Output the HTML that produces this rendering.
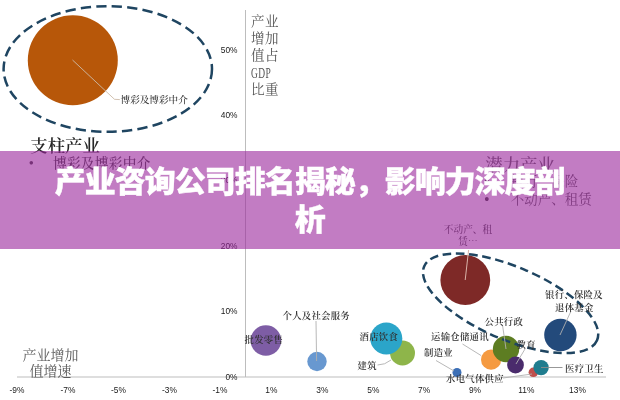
<!DOCTYPE html>
<html lang="zh-CN">
<head>
<meta charset="utf-8">
<title>产业咨询公司排名揭秘，影响力深度剖析</title>
<style>
html,body{margin:0;padding:0;background:#fff;}
body{width:620px;height:400px;overflow:hidden;position:relative;font-family:"Liberation Sans","Noto Sans CJK SC",sans-serif;}
#chart{position:absolute;left:0;top:0;width:620px;height:400px;display:block;filter:blur(0.4px);}
.serif{font-family:"Liberation Serif","Noto Serif CJK SC",serif;}
.sans{font-family:"Liberation Sans","Noto Sans CJK SC",sans-serif;}
#banner{position:absolute;left:0;top:151px;width:620px;height:98px;background:rgba(153,37,155,0.6);display:flex;align-items:center;justify-content:center;text-align:center;}
#banner h1{margin:1px 0 0 0;padding:0;color:#fff;font-family:"Liberation Sans","Noto Sans CJK SC",sans-serif;font-weight:900;font-size:29.4px;line-height:38px;letter-spacing:-0.96px;-webkit-text-stroke:0.4px #fff;transform:scaleX(1.055);transform-origin:50% 50%;white-space:nowrap;}
</style>
</head>
<body>
<svg id="chart" width="620" height="400" viewBox="0 0 620 400">
  <!-- axes -->
  <line x1="245.5" y1="10" x2="245.5" y2="377" stroke="#bdbdbd" stroke-width="1"/>
  <line x1="17" y1="377" x2="606" y2="377" stroke="#bdbdbd" stroke-width="1"/>

  <!-- y labels -->
  <g class="sans" font-size="8.4" fill="#1a1a1a" text-anchor="end">
    <text x="237.5" y="52.7">50%</text>
    <text x="237.5" y="117.7">40%</text>
    <text x="237.5" y="183.3">30%</text>
    <text x="237.5" y="248.6">20%</text>
    <text x="237.5" y="313.7">10%</text>
    <text x="237.5" y="379.7">0%</text>
  </g>
  <!-- x labels -->
  <g class="sans" font-size="8.4" fill="#1a1a1a" text-anchor="middle">
    <text x="17" y="392.5">-9%</text>
    <text x="68" y="392.5">-7%</text>
    <text x="118.5" y="392.5">-5%</text>
    <text x="169.5" y="392.5">-3%</text>
    <text x="220" y="392.5">-1%</text>
    <text x="271.4" y="392.5">1%</text>
    <text x="322.4" y="392.5">3%</text>
    <text x="373.4" y="392.5">5%</text>
    <text x="424.1" y="392.5">7%</text>
    <text x="475" y="392.5">9%</text>
    <text x="526.4" y="392.5">11%</text>
    <text x="577.5" y="392.5">13%</text>
  </g>

  <!-- axis titles -->
  <g class="serif" font-size="13.5" fill="#555" letter-spacing="0.6">
    <text x="251" y="25.5">产业</text>
    <text x="251" y="42.5">增加</text>
    <text x="251" y="59.5">值占</text>
    <text x="251" y="77.5" font-size="15.5" textLength="20" lengthAdjust="spacingAndGlyphs">GDP</text>
    <text x="251" y="94">比重</text>
  </g>
  <g class="serif" font-size="14" fill="#595959" text-anchor="middle">
    <text x="50.5" y="359.5">产业增加</text>
    <text x="50.5" y="376">值增速</text>
  </g>

  <!-- big dashed ellipse -->
  <ellipse cx="107.8" cy="69" rx="104.2" ry="62.8" fill="none" stroke="#1f4561" stroke-width="2.5" stroke-dasharray="10.3 5.2"/>
  <circle cx="72.8" cy="60.3" r="45" fill="#b75709"/>
  <polyline points="72.5,60 114.5,99.3 119.8,99.6" fill="none" stroke="#cdbba8" stroke-width="0.9"/>
  <text class="serif" x="120.6" y="102.6" font-size="9.6" font-weight="500" fill="#333">博彩及博彩中介</text>

  <!-- headings -->
  <text class="serif" x="30.3" y="151.5" font-size="17.4" font-weight="600" fill="#262626">支柱产业</text>
  <text class="serif" x="28.8" y="168.2" font-size="14.5" fill="#444">•</text>
  <text class="serif" x="52.9" y="167.5" font-size="13.7" font-weight="500" fill="#444" letter-spacing="0.3">博彩及博彩中介</text>

  <text class="serif" x="485.3" y="170.8" font-size="17.4" font-weight="500" fill="#606060">潜力产业</text>
  <text class="serif" x="484" y="186.5" font-size="16" fill="#444">•</text>
  <text class="serif" x="510.8" y="185.5" font-size="13.5" fill="#555">银行、保险</text>
  <text class="serif" x="484" y="205" font-size="16" fill="#444">•</text>
  <text class="serif" x="510.8" y="204" font-size="13.5" fill="#555">不动产、租赁</text>


  <!-- big red bubble -->
  <circle cx="465.3" cy="280" r="24.9" fill="#7e2927"/>
  <line x1="468.6" y1="250" x2="465.2" y2="280" stroke="#d9b3a8" stroke-width="1"/>
  <g class="serif" font-size="9.7" font-weight="500" fill="#505050" text-anchor="middle">
    <text x="468" y="232.5">不动产、租</text>
    <text x="468" y="245">赁<tspan font-family="'Noto Serif CJK SC', serif">…</tspan></text>
  </g>

  <!-- bubbles -->
  <circle cx="265.9" cy="340.5" r="15.3" fill="#7e5da5"/>
  <circle cx="317" cy="361.5" r="9.7" fill="#6898d0"/>
  <circle cx="402.5" cy="353" r="12.5" fill="#8eb54a"/>
  <circle cx="386.3" cy="338.5" r="16" fill="#2ba5c9"/>
  <circle cx="457" cy="372.5" r="4.5" fill="#3c6fb6"/>
  <circle cx="491.1" cy="359.7" r="10.1" fill="#f59a40"/>
  <circle cx="506" cy="349" r="13.2" fill="#5d7d22"/>
  <circle cx="515.5" cy="365" r="8.4" fill="#4a2b6c"/>
  <circle cx="560.4" cy="335" r="16.2" fill="#234a7b"/>
  <circle cx="533.4" cy="372.3" r="4.8" fill="#c0504d"/>
  <circle cx="541.1" cy="367.6" r="7.7" fill="#1f7c8e"/>

  <!-- right dashed ellipse -->
  <ellipse cx="510.6" cy="303.3" rx="94" ry="36.4" transform="rotate(23.1 510.6 303.3)" fill="none" stroke="#1f4561" stroke-width="2.5" stroke-dasharray="8.6 4.6"/>

  <!-- leader lines -->
  <g fill="none" stroke="#b0b0b0" stroke-width="0.9">
    <line x1="316" y1="321" x2="316.6" y2="361"/>
    <path d="M377.5 365 Q385 365 391 360"/>
    <line x1="436" y1="360.5" x2="454" y2="371"/>
    <line x1="462.5" y1="344" x2="481" y2="355.5"/>
    <line x1="502.5" y1="325" x2="506" y2="349"/>
    <line x1="525" y1="349" x2="516" y2="364"/>
    <line x1="541" y1="367.5" x2="562.5" y2="367.5" stroke="#8c8c8c"/>
    <line x1="571" y1="311" x2="560" y2="335"/>
    <line x1="503" y1="378" x2="532" y2="374"/>
  </g>

  <!-- bubble labels -->
  <g class="serif" font-size="9.4" font-weight="600" fill="#303030" letter-spacing="0.25">
    <text x="244.5" y="342.5">批发零售</text>
    <text x="282.5" y="318.5">个人及社会服务</text>
    <text x="359.5" y="339.5">酒店饮食</text>
    <text x="357.5" y="368.5">建筑</text>
    <text x="424" y="356">制造业</text>
    <text x="431" y="339.5">运输仓储通讯</text>
    <text x="446" y="382">水电气体供应</text>
    <text x="484.5" y="324.5">公共行政</text>
    <text x="516.5" y="347.5">教育</text>
    <text x="565" y="371.5">医疗卫生</text>
    <text x="545" y="297.5">银行、保险及</text>
    <text x="555" y="310.5">退体基金</text>
  </g>
</svg>
<div id="banner"><h1>产业咨询公司排名揭秘，影响力深度剖<br>析</h1></div>
</body>
</html>
